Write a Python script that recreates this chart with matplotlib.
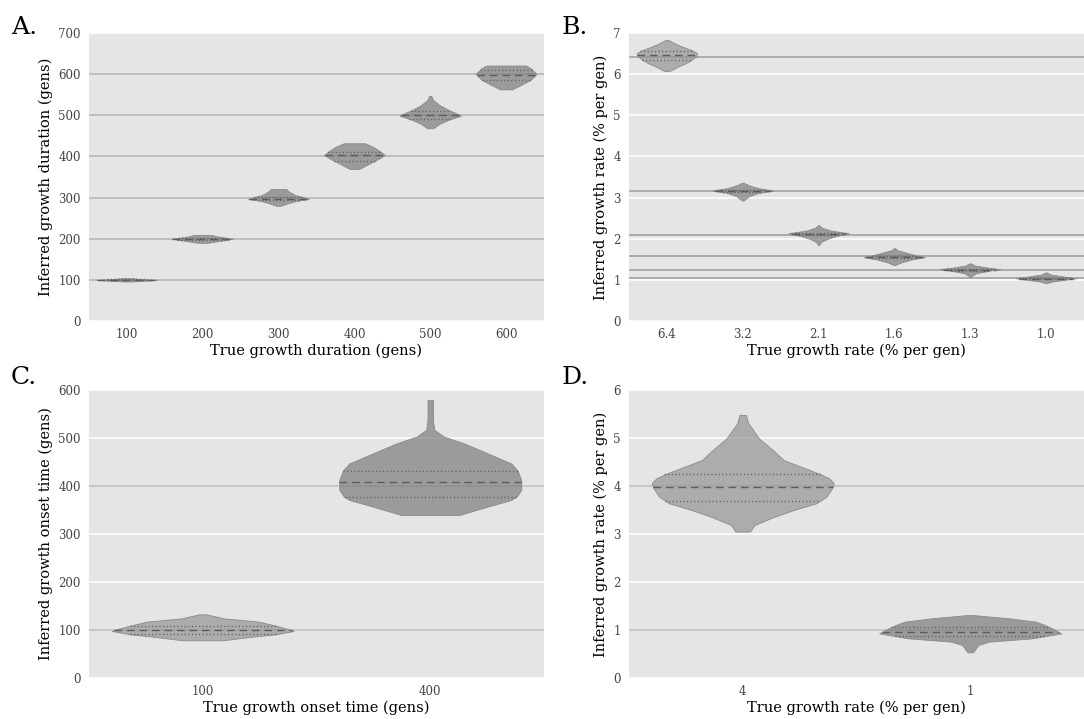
import matplotlib
matplotlib.use("Agg")

import matplotlib.pyplot as plt
import numpy as np
from matplotlib.colors import to_rgba

plt.rcParams["font.family"] = ["DejaVu Serif"]
plt.rcParams["lines.scale_dashes"] = False

# ---- panel A: growth duration ----
a_categories = ["100", "200", "300", "400", "500", "600"]
a_true = [100, 200, 300, 400, 500, 600]
a_levels = [
    [96, 98, 100, 101.5, 104],
    [190, 195, 200, 203, 206, 209],
    [280, 286, 292, 296.5, 300.5, 306, 314, 321],
    [369.5, 375, 383, 395, 403.5, 414, 424, 432],
    [468.5, 479, 489, 498.5, 501, 513, 525, 537, 547],
    [563, 574, 586, 596, 601, 610, 614, 621],
]
a_widths = [
    [0.1, 0.6, 1.0, 0.5, 0.2],
    [0.15, 0.6, 1.0, 0.7, 0.45, 0.3],
    [0.08, 0.3, 0.6, 1.0, 0.85, 0.55, 0.35, 0.25],
    [0.15, 0.3, 0.5, 0.82, 1.0, 0.82, 0.6, 0.35],
    [0.1, 0.3, 0.6, 1.0, 0.98, 0.6, 0.3, 0.1, 0.03],
    [0.2, 0.5, 0.8, 0.95, 1.0, 0.87, 0.82, 0.65],
]
a_quartiles = [(99, 100, 101), (198, 200, 202), (293, 297, 301),
               (389.7, 402.7, 411.6), (491, 501.5, 511.4), (586, 597, 611)]

# ---- panel B: growth rate ----
b_categories = ["6.4", "3.2", "2.1", "1.6", "1.3", "1.0"]
b_true = [6.41, 3.16, 2.09, 1.57, 1.25, 1.04]
b_levels = [
    [6.08, 6.18, 6.26, 6.34, 6.43, 6.51, 6.59, 6.67, 6.75, 6.83],
    [2.93, 3.03, 3.11, 3.17, 3.23, 3.30, 3.36],
    [1.85, 1.92, 2.00, 2.07, 2.13, 2.20, 2.27, 2.33],
    [1.36, 1.43, 1.50, 1.55, 1.58, 1.64, 1.72, 1.77],
    [1.06, 1.10, 1.16, 1.22, 1.26, 1.30, 1.35, 1.40],
    [0.92, 0.96, 1.00, 1.04, 1.08, 1.13, 1.18],
]
b_widths = [
    [0.1, 0.35, 0.6, 0.8, 0.95, 1.0, 0.8, 0.5, 0.25, 0.05],
    [0.03, 0.2, 0.5, 1.0, 0.5, 0.2, 0.03],
    [0.02, 0.08, 0.3, 0.6, 1.0, 0.4, 0.1, 0.02],
    [0.02, 0.25, 0.6, 1.0, 0.8, 0.5, 0.1, 0.02],
    [0.02, 0.06, 0.2, 0.6, 1.0, 0.55, 0.15, 0.02],
    [0.02, 0.2, 0.6, 1.0, 0.6, 0.15, 0.02],
]
b_quartiles = [(6.345, 6.466, 6.56), (3.13, 3.16, 3.19), (2.08, 2.11, 2.14),
               (1.52, 1.555, 1.59), (1.225, 1.245, 1.27), (1.01, 1.03, 1.05)]

# ---- panel C: growth onset time ----
c_categories = ["100", "400"]
c_true = [100, 400]
c_levels = [
    [78.5, 86, 91, 98, 103, 109, 117.4, 124.3, 132.6],
    [339.6, 357, 371, 378, 392, 412.5, 432, 447, 468, 489, 503, 517, 537, 579],
]
c_widths = [
    [0.22, 0.54, 0.8, 1.0, 0.92, 0.8, 0.62, 0.23, 0.04],
    [0.32, 0.63, 0.89, 0.95, 1.0, 1.0, 0.96, 0.89, 0.63, 0.37, 0.15, 0.045, 0.03, 0.03],
]
c_quartiles = [(91, 99.5, 109), (377, 407.6, 431.9)]

# ---- panel D: growth rate ----
d_categories = ["4", "1"]
d_true = [4, 1]
d_levels = [
    [3.05, 3.19, 3.36, 3.50, 3.64, 3.78, 3.95, 4.06, 4.16, 4.24, 4.33, 4.54,
     4.75, 4.99, 5.31, 5.48],
    [0.535, 0.69, 0.757, 0.826, 0.93, 1.035, 1.104, 1.174, 1.243, 1.31],
]
d_widths = [
    [0.08, 0.13, 0.35, 0.56, 0.81, 0.92, 0.98, 1.0, 0.95, 0.86, 0.74, 0.45,
     0.33, 0.18, 0.06, 0.036],
    [0.03, 0.09, 0.21, 0.68, 1.0, 0.9, 0.82, 0.72, 0.43, 0.04],
]
d_quartiles = [(3.69, 3.985, 4.24), (0.875, 0.965, 1.056)]

DARK = "#7c7c7c"
LIGHT = "#949494"
HALF = 0.4


def draw_panel(ax, categories, true_values, levels, widths, quartiles, colors,
               ymax, xlabel, ylabel, line_color):
    ax.set_facecolor("#e5e5e5")
    for side in ax.spines.values():
        side.set_visible(False)
    ax.set_axisbelow(True)
    ax.grid(axis="y", color="white", linewidth=1.1)
    ax.grid(axis="x", visible=False)

    for v in true_values:
        ax.axhline(v, color=line_color, linewidth=1.4, zorder=1)

    for i, (lv, w, q, c) in enumerate(zip(levels, widths, quartiles, colors)):
        lv = np.asarray(lv, dtype=float)
        w = np.asarray(w, dtype=float) * HALF
        ax.fill_betweenx(lv, i - w, i + w, facecolor=to_rgba(c, 0.7),
                         edgecolor="#8a8a8a", linewidth=0.6, zorder=2)
        for k, val in enumerate(q):
            hw = np.interp(val, lv, w)
            style = (0, (5.5, 3.5)) if k == 1 else (0, (0.8, 1.8))
            ax.plot([i - hw, i + hw], [val, val], color="#5c5c5c",
                    linewidth=1.0, linestyle=style, zorder=3)

    ax.set_xlim(-0.5, len(categories) - 0.5)
    ax.set_ylim(0, ymax)
    ax.set_xticks(range(len(categories)))
    ax.set_xticklabels(categories)
    ax.tick_params(axis="both", length=0, labelsize=8.5, labelcolor="#444444")
    ax.tick_params(axis="x", pad=5)
    ax.tick_params(axis="y", pad=6)
    ax.set_xlabel(xlabel, fontsize=10.5, labelpad=2)
    ax.set_ylabel(ylabel, fontsize=10.5, labelpad=4)


fig = plt.figure(figsize=(10.84, 7.19), dpi=100)
W, H = 1084, 719


def box(left, top, right, bottom):
    return [left / W, 1 - bottom / H, (right - left) / W, (bottom - top) / H]


ax_a = fig.add_axes(box(89, 33, 544, 321))
ax_b = fig.add_axes(box(629, 33, 1084, 321))
ax_c = fig.add_axes(box(89, 390, 544, 678))
ax_d = fig.add_axes(box(629, 390, 1084, 678))

draw_panel(ax_a, a_categories, a_true, a_levels, a_widths, a_quartiles,
           [DARK] * 6, 700, "True growth duration (gens)",
           "Inferred growth duration (gens)", "#bdbdbd")
ax_a.set_yticks(range(0, 701, 100))

draw_panel(ax_b, b_categories, b_true, b_levels, b_widths, b_quartiles,
           [LIGHT] + [DARK] * 5, 7, "True growth rate (% per gen)",
           "Inferred growth rate (% per gen)", "#ababab")
ax_b.set_yticks(range(0, 8))

draw_panel(ax_c, c_categories, c_true, c_levels, c_widths, c_quartiles,
           [LIGHT, DARK], 600, "True growth onset time (gens)",
           "Inferred growth onset time (gens)", "#c6c6c6")
ax_c.set_yticks(range(0, 601, 100))

draw_panel(ax_d, d_categories, d_true, d_levels, d_widths, d_quartiles,
           [LIGHT, DARK], 6, "True growth rate (% per gen)",
           "Inferred growth rate (% per gen)", "#c6c6c6")
ax_d.set_yticks(range(0, 7))

for label, x, y in [("A.", 11, 27), ("B.", 562, 27), ("C.", 11, 378), ("D.", 562, 378)]:
    fig.text(x / W, 1 - y / H, label, fontsize=18, va="center", ha="left")

fig.savefig("out.png", dpi=100)
